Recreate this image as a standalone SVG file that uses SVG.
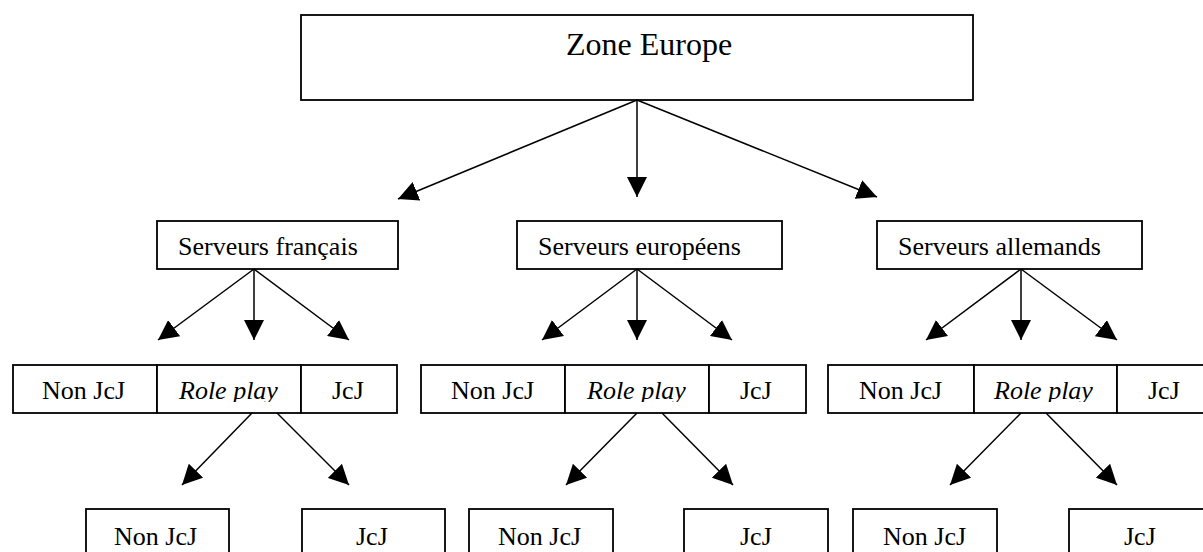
<svg xmlns="http://www.w3.org/2000/svg" width="1203" height="552" viewBox="0 0 1203 552">
<style>
rect.box{fill:#fff;stroke:#000;stroke-width:1.8}
text{font-family:"Liberation Serif","Times New Roman",serif;font-size:26px;fill:#000}
text.big{font-size:32px}
text.it{font-style:italic}
.conn line{stroke:#000;stroke-width:1.5;marker-end:url(#ah)}
</style>
<defs>
<marker id="ah" markerUnits="userSpaceOnUse" markerWidth="20" markerHeight="20" refX="20" refY="10" orient="auto" viewBox="0 0 20 20">
<path d="M0,0 L20,10 L0,20 z" fill="#000"/>
</marker>
<clipPath id="rpclip"><rect x="0" y="360" width="1203" height="42"/></clipPath>
</defs>
<rect width="1203" height="552" fill="#fff"/>

<g id="zone-europe"><rect class="box" x="301" y="15" width="672" height="85"/><text class="big" x="566" y="55">Zone Europe</text></g>

<g id="serveurs-francais"><rect class="box" x="157" y="221" width="241" height="48"/><text x="178" y="255">Serveurs français</text></g>
<g id="serveurs-europeens"><rect class="box" x="517" y="221" width="265" height="48"/><text x="538" y="255">Serveurs européens</text></g>
<g id="serveurs-allemands"><rect class="box" x="877" y="221" width="265" height="48"/><text x="898" y="255">Serveurs allemands</text></g>

<g id="fr-nonjcj"><rect class="box" x="13" y="365" width="144" height="48"/><text x="42" y="399">Non JcJ</text></g>
<g id="fr-roleplay"><rect class="box" x="157" y="365" width="144" height="48"/><text class="it" x="179" y="399" clip-path="url(#rpclip)">Role play</text></g>
<g id="fr-jcj"><rect class="box" x="301" y="365" width="96" height="48"/><text x="332" y="399">JcJ</text></g>

<g id="eu-nonjcj"><rect class="box" x="421" y="365" width="144" height="48"/><text x="451" y="399">Non JcJ</text></g>
<g id="eu-roleplay"><rect class="box" x="565" y="365" width="144" height="48"/><text class="it" x="587" y="399" clip-path="url(#rpclip)">Role play</text></g>
<g id="eu-jcj"><rect class="box" x="709" y="365" width="97" height="48"/><text x="740" y="399">JcJ</text></g>

<g id="de-nonjcj"><rect class="box" x="828" y="365" width="146" height="48"/><text x="859" y="399">Non JcJ</text></g>
<g id="de-roleplay"><rect class="box" x="974" y="365" width="143" height="48"/><text class="it" x="994" y="399" clip-path="url(#rpclip)">Role play</text></g>
<g id="de-jcj"><rect class="box" x="1117" y="365" width="97" height="48"/><text x="1148" y="399">JcJ</text></g>

<g id="fr-rp-nonjcj"><rect class="box" x="86" y="509" width="143" height="60"/><text x="114" y="545">Non JcJ</text></g>
<g id="fr-rp-jcj"><rect class="box" x="302" y="509" width="143" height="60"/><text x="356" y="545">JcJ</text></g>
<g id="eu-rp-nonjcj"><rect class="box" x="469" y="509" width="144" height="60"/><text x="498" y="545">Non JcJ</text></g>
<g id="eu-rp-jcj"><rect class="box" x="684" y="509" width="144" height="60"/><text x="740" y="545">JcJ</text></g>
<g id="de-rp-nonjcj"><rect class="box" x="853" y="509" width="144" height="60"/><text x="883" y="545">Non JcJ</text></g>
<g id="de-rp-jcj"><rect class="box" x="1069" y="509" width="144" height="60"/><text x="1124" y="545">JcJ</text></g>

<g id="connectors" class="conn">
<line x1="637" y1="100" x2="398" y2="199"/>
<line x1="637" y1="100" x2="637" y2="197"/>
<line x1="637" y1="100" x2="877" y2="197"/>
<line x1="254" y1="269" x2="158" y2="340"/>
<line x1="254" y1="269" x2="254" y2="340"/>
<line x1="254" y1="269" x2="349" y2="340"/>
<line x1="637" y1="269" x2="542" y2="340"/>
<line x1="637" y1="269" x2="637" y2="340"/>
<line x1="637" y1="269" x2="732" y2="340"/>
<line x1="1021" y1="269" x2="926" y2="340"/>
<line x1="1021" y1="269" x2="1021" y2="340"/>
<line x1="1021" y1="269" x2="1117" y2="340"/>
<line x1="252" y1="413" x2="182" y2="485"/>
<line x1="277" y1="413" x2="349" y2="485"/>
<line x1="637" y1="413" x2="566" y2="485"/>
<line x1="662" y1="413" x2="733" y2="485"/>
<line x1="1021" y1="413" x2="950" y2="485"/>
<line x1="1046" y1="413" x2="1117" y2="485"/>
</g>
</svg>
